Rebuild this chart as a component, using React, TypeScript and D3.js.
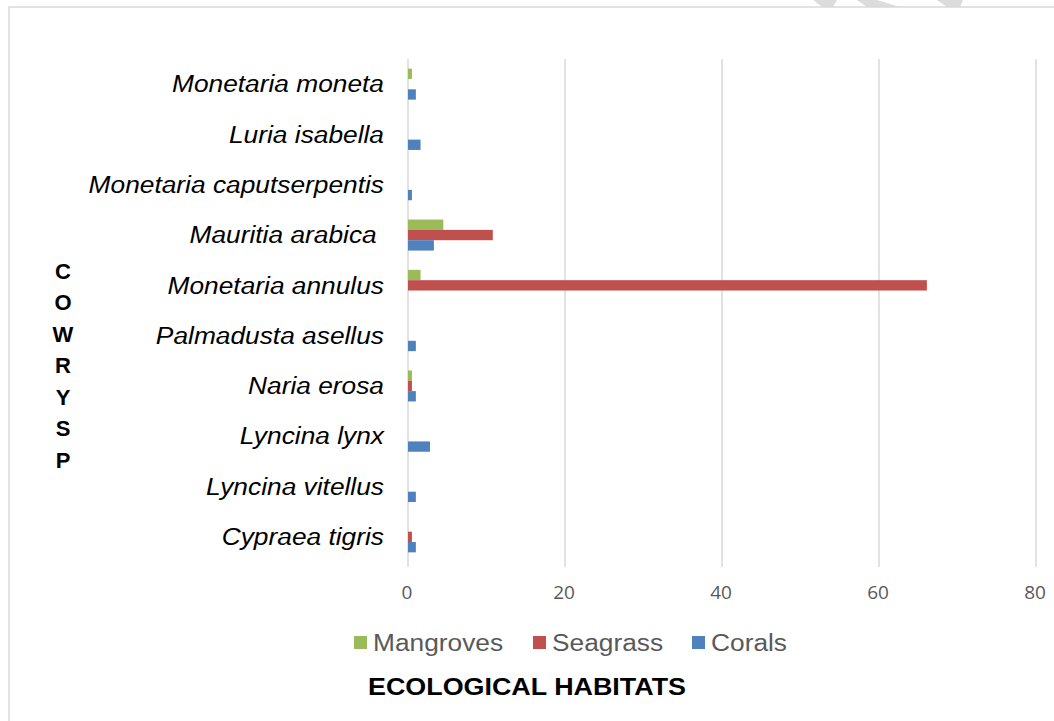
import React from 'react';
import * as d3 from 'd3';

const species = [
  'Monetaria moneta',
  'Luria isabella',
  'Monetaria caputserpentis',
  'Mauritia arabica\u00a0',
  'Monetaria annulus',
  'Palmadusta asellus',
  'Naria erosa',
  'Lyncina lynx',
  'Lyncina vitellus',
  'Cypraea tigris',
];

const seriesNames = ['Mangroves', 'Seagrass', 'Corals'];
const seriesColors = ['#9BBB59', '#C0504D', '#4F81BD'];

const mangroves = [0.5, 0, 0, 4.5, 1.6, 0, 0.5, 0, 0, 0];
const seagrass = [0, 0, 0, 10.8, 66.1, 0, 0.5, 0, 0, 0.5];
const corals = [1, 1.6, 0.5, 3.3, 0, 1, 1, 2.8, 1, 1];

const xTicks = [0, 20, 40, 60, 80];
const sideLetters = ['C', 'O', 'W', 'R', 'Y', 'S', 'P'];

const W = 1054;
const H = 721;
const STRETCH = 1.12; // the picture is a bit wider than tall
const ARIAL = "'Liberation Sans', Arial, sans-serif";

const App: React.FC = () => {
  const values = [mangroves, seagrass, corals];

  const x = d3.scaleLinear().domain([0, 80]).range([408, 1036]);
  const y = d3.scaleBand<string>().domain(species).range([59, 562]);
  const groupH = 31;
  const inner = d3.scaleBand<string>().domain(seriesNames).range([0, groupH]);

  const legendX = [354, 533, 692];

  return (
    <div style={{ position: 'absolute', left: 0, top: 0 }}>
      <svg width={W} height={H} style={{ display: 'block', background: '#fff' }}>
        {/* faint watermark fragments at the top */}
        <g fill="#dcdcdc">
          <polygon points="813,0 837,0 833,7 822,7" />
          <polygon points="857,0 877,0 900,7 867,7" />
          <polygon points="937,0 963,0 960,7 947,7" />
        </g>

        {/* chart frame */}
        <rect x={9} y={7} width={W + 20} height={H + 20} fill="none" stroke="#d9d9d9" strokeWidth={1.5} />

        {/* gridlines */}
        {xTicks.map(t => (
          <line key={t} x1={x(t)} x2={x(t)} y1={59} y2={567} stroke="#d9d9d9" strokeWidth={1.5} />
        ))}

        {/* bars */}
        {species.map((s, i) => {
          const top = (y(s) as number) + (y.bandwidth() - groupH) / 2;
          return (
            <g key={s}>
              {seriesNames.map((n, k) => {
                const v = values[k][i];
                if (!v) return null;
                return (
                  <rect
                    key={n}
                    x={x(0)}
                    y={top + (inner(n) as number)}
                    width={x(v) - x(0)}
                    height={inner.bandwidth()}
                    fill={seriesColors[k]}
                  />
                );
              })}
            </g>
          );
        })}

        {/* category labels */}
        {species.map(s => (
          <text
            key={s}
            transform={`translate(384,${(y(s) as number) + y.bandwidth() / 2}) scale(${STRETCH},1)`}
            dy="0.35em"
            textAnchor="end"
            fontFamily={ARIAL}
            fontStyle="italic"
            fontSize={23.5}
            fill="#000"
            style={{ whiteSpace: 'pre' }}
          >
            {s}
          </text>
        ))}

        {/* x tick labels */}
        {xTicks.map(t => (
          <text
            key={t}
            x={x(t) - 1}
            y={592}
            dy="0.35em"
            textAnchor="middle"
            fontFamily="'Open Sans', sans-serif"
            fontSize={19}
            fill="#595959"
          >
            {t}
          </text>
        ))}

        {/* vertical axis title */}
        {sideLetters.map((c, i) => (
          <text
            key={i}
            x={63}
            y={271 + i * 31.5}
            dy="0.35em"
            textAnchor="middle"
            fontFamily={ARIAL}
            fontWeight="bold"
            fontSize={22}
            fill="#000"
          >
            {c}
          </text>
        ))}

        {/* legend */}
        {seriesNames.map((n, k) => (
          <g key={n} transform={`translate(${legendX[k]},643)`}>
            <rect x={0} y={-7} width={13} height={13} fill={seriesColors[k]} />
            <text
              transform={`translate(19,0) scale(${STRETCH},1)`}
              dy="0.35em"
              fontFamily={ARIAL}
              fontSize={23.5}
              fill="#595959"
            >
              {n}
            </text>
          </g>
        ))}

        {/* horizontal axis title */}
        <text
          transform={`translate(527,687) scale(${STRETCH},1)`}
          dy="0.35em"
          textAnchor="middle"
          fontFamily={ARIAL}
          fontWeight="bold"
          fontSize={24}
          fill="#000"
        >
          ECOLOGICAL HABITATS
        </text>
      </svg>
    </div>
  );
};

export default App;
